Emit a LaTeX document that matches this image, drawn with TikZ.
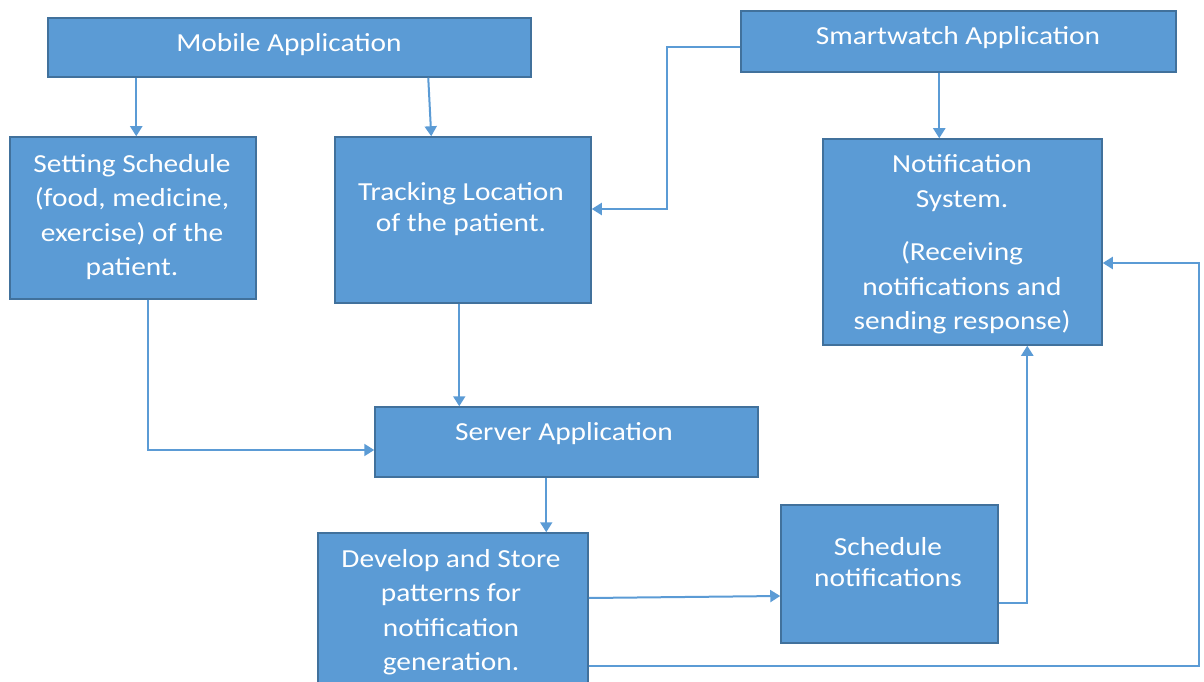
\documentclass[tikz,border=0pt]{standalone}
\usepackage{fontspec}
\setmainfont[FakeStretch=1.13]{Carlito}
\usetikzlibrary{arrows.meta}
\definecolor{boxfill}{HTML}{5B9BD5}
\definecolor{boxline}{HTML}{41719C}
\definecolor{linkcol}{HTML}{5B9BD5}
\tikzset{
  block/.style={draw=boxline, fill=boxfill, line width=1.5pt, inner sep=0pt},
  label/.style={text=white, align=center, font=\fontsize{26}{34.5}\selectfont, inner sep=0pt},
  tight/.style={font=\fontsize{26}{31}\selectfont},
  link/.style={draw=linkcol, line width=2pt, -{Triangle[length=10pt,width=12pt]}},
}
\begin{document}
\begin{tikzpicture}[x=1pt,y=1pt]
\useasboundingbox (0,0) rectangle (1204,681);
\clip (0,0) rectangle (1204,681);

% boxes
\node[block, minimum width=483pt, minimum height=59pt] (mob) at (289.5,633.5) {};
\node[block, minimum width=246pt, minimum height=162pt] (set) at (133,463) {};
\node[block, minimum width=256pt, minimum height=166pt] (trk) at (463,461) {};
\node[block, minimum width=435pt, minimum height=61pt] (swa) at (958.5,639.5) {};
\node[block, minimum width=279pt, minimum height=206pt] (nsys) at (962.5,439) {};
\node[block, minimum width=383pt, minimum height=70pt] (srv) at (566.5,239) {};
\node[block, minimum width=270pt, minimum height=157pt] (dev) at (453,69.5) {};
\node[block, minimum width=217pt, minimum height=138pt] (sch) at (889.5,107) {};

% texts
\node[label] (tmob) at (289,636) {Mobile Application};
\node[label] (tswa) at (958,643.5) {Smartwatch Application};
\node[label] (tset) at (132,464) {Setting Schedule\\(food, medicine,\\exercise) of the\\patient.};
\node[label, tight] (ttrk) at (461,471.5) {Tracking Location\\of the patient.};
\node[label] (tns1) at (962,498) {Notification\\System.};
\node[label] (tns2) at (962,393) {(Receiving\\notifications and\\sending response)};
\node[label] (tsrv) at (564,247.5) {Server Application};
\node[label, tight] (tsch) at (888,118.5) {Schedule\\notifications};
\node[label] (tdev) at (451,69) {Develop and Store\\patterns for\\notification\\generation.};

% connectors
\draw[link] ([xshift=89pt]mob.south west) -- ([xshift=127pt]set.north west);
\draw[link] ([xshift=381pt]mob.south west) -- ([xshift=97pt]trk.north west);
\draw[link] ([yshift=-5.5pt]swa.west) -- ++(-73pt,0pt) |- ([yshift=11pt]trk.east);
\draw[link] ([xshift=199pt]swa.south west) -- ([xshift=117pt]nsys.north west);
\draw[link] ([xshift=139pt]set.south west) |- ([yshift=-8pt]srv.west);
\draw[link] ([xshift=125pt]trk.south west) -- ([xshift=85pt]srv.north west);
\draw[link] ([xshift=172pt]srv.south west) -- ([xshift=229pt]dev.north west);
\draw[link] ([yshift=13.5pt]dev.east) -- ([yshift=-22pt]sch.west);
\draw[link] ([yshift=-29pt]sch.east) -| ([xshift=205pt]nsys.south west);
\draw[link] ([yshift=-54.5pt]dev.east) -- ++(610pt,0pt) |- ([yshift=-21pt]nsys.east);
\end{tikzpicture}
\end{document}
